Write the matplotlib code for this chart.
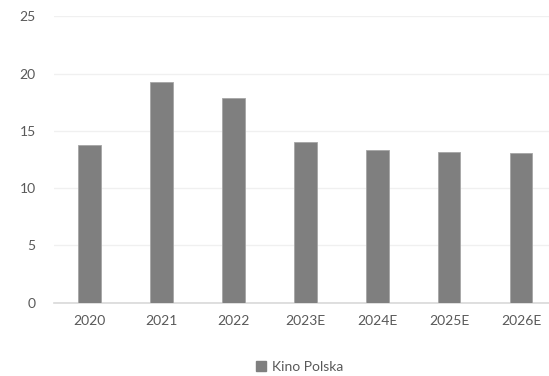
import matplotlib.pyplot as plt
from matplotlib.patches import Patch

years = ['2020', '2021', '2022', '2023E', '2024E', '2025E', '2026E']
kino_polska = [13.8, 19.3, 17.9, 14.0, 13.3, 13.2, 13.1]
y_ticks = [0, 5, 10, 15, 20, 25]

plt.rcParams['font.family'] = ['Lato', 'DejaVu Sans']

fig = plt.figure(figsize=(5.49, 3.76), dpi=100)
ax = fig.add_axes([0.0978, 0.195, 0.9168, 0.7614])

x = range(len(years))
ax.bar(x, kino_polska, width=0.315, color='#7f7f7f', edgecolor='#a6a6a6',
       linewidth=0.6, zorder=3)

ax.set_xlim(-0.5, len(years) - 0.5)
ax.set_ylim(0, 25)
ax.set_yticks(y_ticks)
ax.set_xticks(list(x))
ax.set_xticklabels(years)

ax.grid(axis='y', color='#f0f0f0', linewidth=1, zorder=0)
for s in ['top', 'right', 'left']:
    ax.spines[s].set_visible(False)
ax.spines['bottom'].set_color('#d9d9d9')
ax.spines['bottom'].set_linewidth(1.2)
ax.tick_params(axis='both', length=0, labelsize=10, labelcolor='#595959')
ax.tick_params(axis='y', pad=13)
ax.tick_params(axis='x', pad=9)

handles = [Patch(facecolor='#7f7f7f', edgecolor='#7f7f7f', label='Kino Polska')]
fig.legend(handles=handles, loc='center', bbox_to_anchor=(0.546, 0.025),
           frameon=False, fontsize=10, handlelength=0.7, handleheight=0.7,
           handletextpad=0.4, labelcolor='#595959')

fig.savefig('out.png', dpi=100)
